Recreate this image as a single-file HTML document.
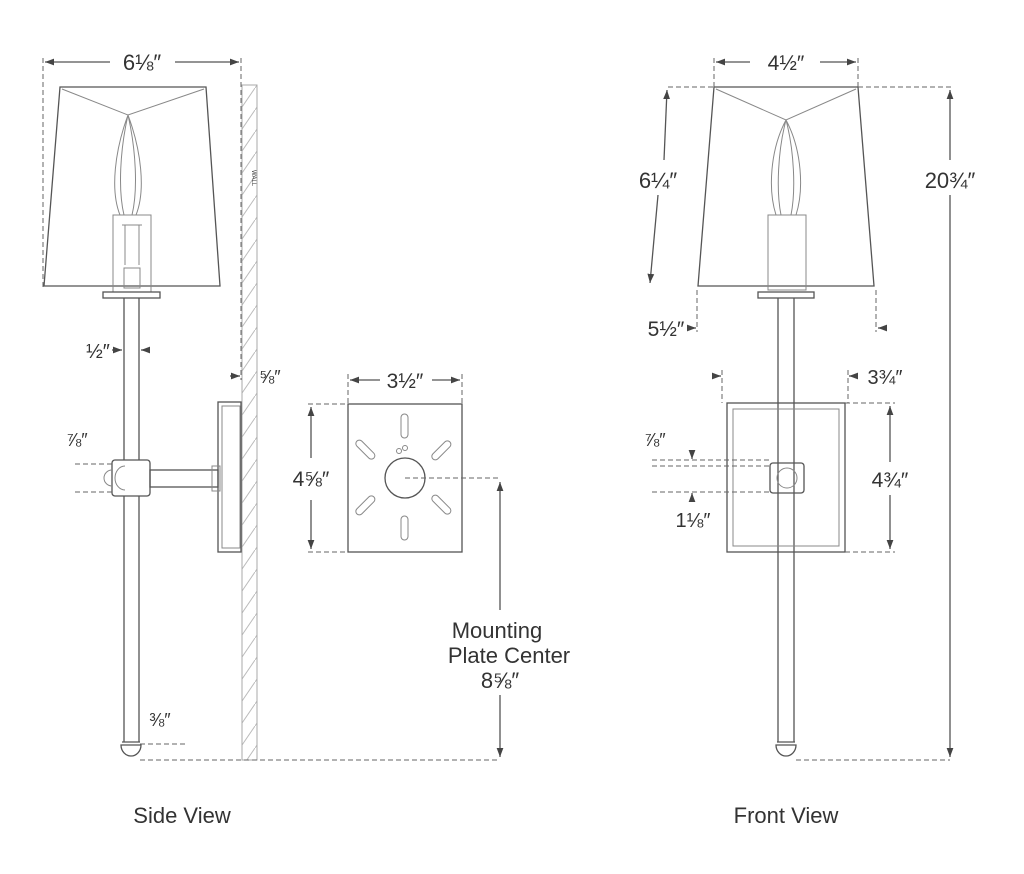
<!DOCTYPE html>
<html><head><meta charset="utf-8"><style>
html,body{margin:0;padding:0;background:#fff}
svg{display:block}
text{font-family:"Liberation Sans",sans-serif;fill:#333}
.l{stroke:#555;stroke-width:1.3;fill:none}
.t{stroke:#888;stroke-width:1;fill:none}
.d{stroke:#666;stroke-width:1;fill:none;stroke-dasharray:5 3}
</style></head><body>
<svg width="1024" height="874" viewBox="0 0 1024 874">
<defs>
<marker id="a" viewBox="0 0 8 8" refX="8" refY="4" markerWidth="7" markerHeight="7" orient="auto-start-reverse"><path d="M0,1 L8,4 L0,7z" fill="#444"/></marker>
<pattern id="h" width="15" height="22" patternUnits="userSpaceOnUse"><path d="M0,22 L15,0" stroke="#bbb" stroke-width="1"/></pattern>
</defs>
<!-- SIDE VIEW -->
<line class="d" x1="43" y1="58" x2="43" y2="290"/>
<line class="d" x1="241" y1="58" x2="241" y2="380"/>
<line class="l" x1="45" y1="62" x2="110" y2="62" marker-start="url(#a)"/>
<line class="l" x1="175" y1="62" x2="239" y2="62" marker-end="url(#a)"/>
<text x="142" y="70" font-size="22" text-anchor="middle">6⅛″</text>
<rect x="242" y="85" width="15" height="675" fill="url(#h)" stroke="#aaa"/>
<text x="252" y="170" font-size="6" fill="#aaa" transform="rotate(90 252 170)">WALL</text>
<polygon class="l" points="60,87 206,87 220,286 44,286"/>
<path class="t" d="M62,89 L128,115 L204,89 M128,115 C115,150 110,190 120,215 M128,115 C141,150 146,190 136,215 M128,115 C120,150 118,190 124,215 M128,115 C136,150 138,190 132,215"/>
<rect class="t" x="113" y="215" width="38" height="77"/>
<path class="t" d="M122,225 h20 M125,225 v40 M139,225 v40 M124,268 h16 v20 h-16z"/>
<rect class="l" x="103" y="292" width="57" height="6"/>
<line class="l" x1="124" y1="298" x2="124" y2="460"/>
<line class="l" x1="139" y1="298" x2="139" y2="460"/>
<line class="l" x1="124" y1="496" x2="124" y2="742"/>
<line class="l" x1="139" y1="496" x2="139" y2="742"/>
<text x="98" y="358" font-size="20" text-anchor="middle">½″</text>
<line class="l" x1="112" y1="350" x2="122" y2="350" marker-end="url(#a)"/>
<line class="l" x1="150" y1="350" x2="141" y2="350" marker-end="url(#a)"/>
<text x="270" y="383" font-size="18" text-anchor="middle">⅝″</text>
<line class="l" x1="230" y1="376" x2="240" y2="376" marker-end="url(#a)"/>
<rect class="l" x="218" y="402" width="23" height="150"/>
<rect class="t" x="222" y="406" width="18" height="142"/>
<rect class="l" x="150" y="470" width="68" height="17"/>
<rect class="t" x="212" y="466" width="8" height="25"/>
<rect class="l" x="112" y="460" width="38" height="36" rx="3"/>
<path class="t" d="M125,466 a10,12 0 0 0 0,24 M112,470 a8,8 0 0 0 0,16"/>
<text x="77" y="446" font-size="18" text-anchor="middle">⅞″</text>
<line class="d" x1="75" y1="464" x2="112" y2="464"/>
<line class="d" x1="75" y1="492" x2="112" y2="492"/>
<text x="160" y="726" font-size="18" text-anchor="middle">⅜″</text>
<line class="d" x1="140" y1="744" x2="185" y2="744"/>
<path class="l" d="M122,742 h18 M121,745 h20 a10,11 0 0 1 -20,0z"/>
<line class="d" x1="140" y1="760" x2="500" y2="760"/>
<text x="182" y="823" font-size="22" text-anchor="middle">Side View</text>
<!-- MOUNTING PLATE -->
<line class="d" x1="348" y1="374" x2="348" y2="404"/>
<line class="d" x1="462" y1="374" x2="462" y2="404"/>
<line class="l" x1="350" y1="380" x2="380" y2="380" marker-start="url(#a)"/>
<line class="l" x1="432" y1="380" x2="460" y2="380" marker-end="url(#a)"/>
<text x="405" y="388" font-size="21" text-anchor="middle">3½″</text>
<rect class="l" x="348" y="404" width="114" height="148"/>
<line class="d" x1="308" y1="404" x2="348" y2="404"/>
<line class="d" x1="308" y1="552" x2="348" y2="552"/>
<line class="l" x1="311" y1="458" x2="311" y2="407" marker-end="url(#a)"/>
<line class="l" x1="311" y1="500" x2="311" y2="549" marker-end="url(#a)"/>
<text x="311" y="486" font-size="21" text-anchor="middle">4⅝″</text>
<circle class="l" cx="405" cy="478" r="20"/>
<g class="t" stroke-width="1.2">
<rect x="401" y="414" width="7" height="24" rx="3.5"/>
<rect x="401" y="516" width="7" height="24" rx="3.5"/>
<rect x="362" y="438" width="7" height="24" rx="3.5" transform="rotate(-45 365 450)"/>
<rect x="438" y="438" width="7" height="24" rx="3.5" transform="rotate(45 441 450)"/>
<rect x="362" y="493" width="7" height="24" rx="3.5" transform="rotate(45 365 505)"/>
<rect x="438" y="493" width="7" height="24" rx="3.5" transform="rotate(-45 441 505)"/>
<circle cx="399" cy="451" r="2.5"/><circle cx="405" cy="448" r="2.5"/>
</g>
<line class="d" x1="405" y1="478" x2="500" y2="478"/>
<line class="l" x1="500" y1="610" x2="500" y2="482" marker-end="url(#a)"/>
<line class="l" x1="500" y1="695" x2="500" y2="757" marker-end="url(#a)"/>
<text x="497" y="638" font-size="22" text-anchor="middle">Mounting</text>
<text x="509" y="663" font-size="22" text-anchor="middle">Plate Center</text>
<text x="500" y="688" font-size="22" text-anchor="middle">8⅝″</text>
<!-- FRONT VIEW -->
<line class="d" x1="714" y1="58" x2="714" y2="87"/>
<line class="d" x1="858" y1="58" x2="858" y2="87"/>
<line class="l" x1="716" y1="62" x2="750" y2="62" marker-start="url(#a)"/>
<line class="l" x1="820" y1="62" x2="856" y2="62" marker-end="url(#a)"/>
<text x="786" y="70" font-size="21" text-anchor="middle">4½″</text>
<polygon class="l" points="714,87 858,87 874,286 698,286"/>
<path class="t" d="M716,89 L786,120 L856,89 M786,120 C770,150 768,190 776,215 M786,120 C802,150 804,190 796,215 M786,120 C778,150 776,190 781,215 M786,120 C794,150 796,190 791,215"/>
<rect class="t" x="768" y="215" width="38" height="75"/>
<rect class="l" x="758" y="292" width="56" height="6"/>
<line class="l" x1="778" y1="298" x2="778" y2="742"/>
<line class="l" x1="794" y1="298" x2="794" y2="742"/>
<line class="d" x1="858" y1="87" x2="952" y2="87"/>
<line class="d" x1="668" y1="87" x2="714" y2="87"/>
<line class="l" x1="950" y1="160" x2="950" y2="90" marker-end="url(#a)"/>
<line class="l" x1="950" y1="195" x2="950" y2="757" marker-end="url(#a)"/>
<text x="950" y="188" font-size="22" text-anchor="middle">20¾″</text>
<line class="l" x1="664" y1="160" x2="667" y2="90" marker-end="url(#a)"/>
<line class="l" x1="658" y1="195" x2="650" y2="283" marker-end="url(#a)"/>
<text x="658" y="188" font-size="22" text-anchor="middle">6¼″</text>
<line class="d" x1="697" y1="290" x2="697" y2="332"/>
<line class="d" x1="876" y1="290" x2="876" y2="332"/>
<line class="l" x1="687" y1="328" x2="696" y2="328" marker-end="url(#a)"/>
<line class="l" x1="887" y1="328" x2="878" y2="328" marker-end="url(#a)"/>
<text x="666" y="336" font-size="21" text-anchor="middle">5½″</text>
<rect class="l" x="727" y="403" width="118" height="149"/>
<rect class="t" x="733" y="409" width="106" height="137"/>
<line class="d" x1="722" y1="370" x2="722" y2="403"/>
<line class="d" x1="848" y1="370" x2="848" y2="403"/>
<line class="l" x1="712" y1="376" x2="721" y2="376" marker-end="url(#a)"/>
<line class="l" x1="858" y1="376" x2="849" y2="376" marker-end="url(#a)"/>
<text x="885" y="384" font-size="20" text-anchor="middle">3¾″</text>
<line class="d" x1="845" y1="403" x2="895" y2="403"/>
<line class="d" x1="845" y1="552" x2="895" y2="552"/>
<line class="l" x1="890" y1="462" x2="890" y2="406" marker-end="url(#a)"/>
<line class="l" x1="890" y1="495" x2="890" y2="549" marker-end="url(#a)"/>
<text x="890" y="487" font-size="21" text-anchor="middle">4¾″</text>
<rect class="l" x="770" y="463" width="34" height="30" rx="3"/>
<circle class="t" cx="787" cy="478" r="10"/>
<text x="655" y="446" font-size="18" text-anchor="middle">⅞″</text>
<line class="d" x1="652" y1="460" x2="770" y2="460"/>
<line class="d" x1="652" y1="466" x2="770" y2="466"/>
<line class="d" x1="652" y1="492" x2="770" y2="492"/>
<line class="l" x1="692" y1="452" x2="692" y2="459" marker-end="url(#a)"/>
<line class="l" x1="692" y1="502" x2="692" y2="493" marker-end="url(#a)"/>
<text x="693" y="527" font-size="20" text-anchor="middle">1⅛″</text>
<path class="l" d="M777,742 h18 M776,745 h20 a10,11 0 0 1 -20,0z"/>
<line class="d" x1="796" y1="760" x2="950" y2="760"/>
<text x="786" y="823" font-size="22" text-anchor="middle">Front View</text>
</svg>
</body></html>
